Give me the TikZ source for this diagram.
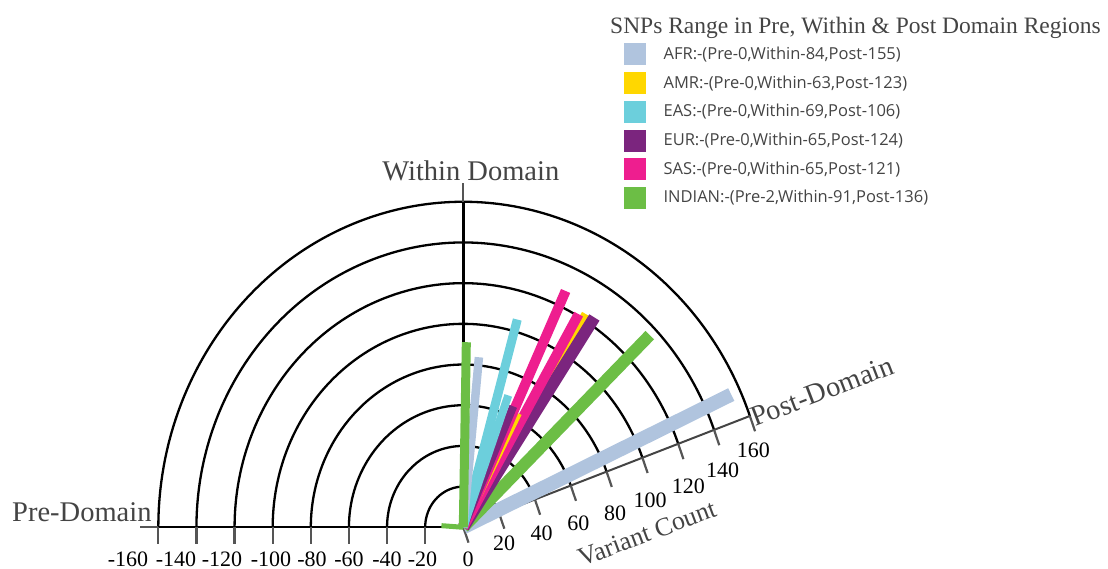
\documentclass[tikz,border=0pt]{standalone}
\usepackage{fontspec}
\setmainfont{Liberation Serif}
\newfontfamily\legendfont{Open Sans}
\usetikzlibrary{positioning}

\definecolor{afr}{HTML}{B0C4DE}
\definecolor{amr}{HTML}{FFD700}
\definecolor{eas}{HTML}{6CCFDC}
\definecolor{eur}{HTML}{7B257E}
\definecolor{sas}{HTML}{EE1E8F}
\definecolor{indian}{HTML}{6CBE45}
\definecolor{axisgray}{HTML}{444444}
\definecolor{tickgray}{HTML}{555555}

\tikzset{
    ring/.style={line width=2.3pt, black},
    tickmark/.style={line width=2.2pt, tickgray},
    axislbl/.style={text=axisgray, font=\fontsize{28.5}{30}\selectfont, inner sep=0pt},
    ticklbl/.style={font=\fontsize{22}{24}\selectfont, inner sep=0pt},
    legendbox/.style={minimum size=22pt, inner sep=0pt},
    legendtxt/.style={text=axisgray, font=\legendfont\fontsize{16.5}{18}\selectfont, inner sep=0pt},
}

\begin{document}
\begin{tikzpicture}[x=1pt, y=1pt]
        \useasboundingbox (-463.3,-41.7) rectangle (644.7,527.3);

        \begin{scope}[x=1.906pt, y=2.034pt]
            \coordinate (o) at (0,0);
            \coordinate (pre) at (180:160);
            \coordinate (preend) at (180:169.5);
            \coordinate (within) at (90:160);
            \coordinate (withinend) at (90:169.5);
            \coordinate (post) at (20:160);

            % rings, 20 apart
            \foreach \r in {20,40,...,160}
                \draw[ring] (20:\r) arc[start angle=20, end angle=180, radius=\r];

            \draw[line width=2.4pt] (pre) -- (o) -- (within);
            \draw[line width=2pt, tickgray] (preend) -- (pre);
            \draw[line width=2pt, tickgray] (within) -- (withinend);
            \draw[line width=2pt, axisgray] (o) -- (post);

            \foreach \v in {20,40,...,160}
                \draw[tickmark] (180:\v) -- ++(0,-17pt);
            \foreach \v in {0,20,...,160}
                \draw[tickmark] (20:\v) -- ++(-70:8);

            % bars: angle / value / width / colour
            \foreach \a/\r/\w/\c in {24.9/155/14/afr, 44/136/12/indian, 58.2/123/11/amr,
                    56.3/124/12/eur, 60/121/10/sas, 62.7/63/7/amr, 65.2/128/10/sas,
                    66.2/65/8/eur, 70/69/8/eas, 74.5/106/9/eas, 84.4/84/8.5/afr, 89/91/9/indian}
                \draw[\c, line width=\w pt] (o) -- (\a:\r);
            \draw[indian, line width=5pt] (o) -- (176:11.5);
        \end{scope}

        \node[axislbl, anchor=base] (withinlbl) at (7.5,346.6) {Within Domain};
        \node[axislbl, anchor=base west] (prelbl) at (-451.3,5.6) {Pre-Domain};
        \node[axislbl, anchor=base west, rotate=21] (postlbl) at (291.7,100.3) {Post-Domain};
        \node[axislbl, anchor=base west, rotate=20.5, font=\fontsize{26}{28}\selectfont] (countlbl) at (118.4,-39.4) {Variant Count};

        \foreach \v/\x in {-160/-335.3, -140/-287.3, -120/-241.3, -100/-192.3, -80/-151.3,
                -60/-114.3, -40/-76.3, -20/-40.8, 0/4.7}
            \node[ticklbl] at (\x,-32) {\v};
        \foreach \v/\x/\y in {20/40.7/-16, 40/78.4/-6, 60/115/4, 80/151.7/14, 100/186.7/27.3,
                120/225/40.6, 140/259.4/57.3, 160/290/77.3}
            \node[ticklbl] at (\x,\y) {\v};

        % legend
        \node[anchor=base west, text=axisgray, font=\fontsize{23.5}{25}\selectfont, inner sep=0pt] (title) at (146.7,494) {SNPs Range in Pre, Within \& Post Domain Regions};
        \node[legendbox, fill=afr] (kafr) at (171.6,472.8) {};
        \node[legendbox, fill=amr, below=6.3pt of kafr] (kamr) {};
        \node[legendbox, fill=eas, below=6.3pt of kamr] (keas) {};
        \node[legendbox, fill=eur, below=6.3pt of keas] (keur) {};
        \node[legendbox, fill=sas, below=6.3pt of keur] (ksas) {};
        \node[legendbox, fill=indian, below=6.3pt of ksas] (kindian) {};
        \node[legendtxt, right=17.3pt of kafr] {AFR:-(Pre-0,Within-84,Post-155)};
        \node[legendtxt, right=17.3pt of kamr] {AMR:-(Pre-0,Within-63,Post-123)};
        \node[legendtxt, right=17.3pt of keas] {EAS:-(Pre-0,Within-69,Post-106)};
        \node[legendtxt, right=17.3pt of keur] {EUR:-(Pre-0,Within-65,Post-124)};
        \node[legendtxt, right=17.3pt of ksas] {SAS:-(Pre-0,Within-65,Post-121)};
        \node[legendtxt, right=17.3pt of kindian] {INDIAN:-(Pre-2,Within-91,Post-136)};
\end{tikzpicture}
\end{document}
